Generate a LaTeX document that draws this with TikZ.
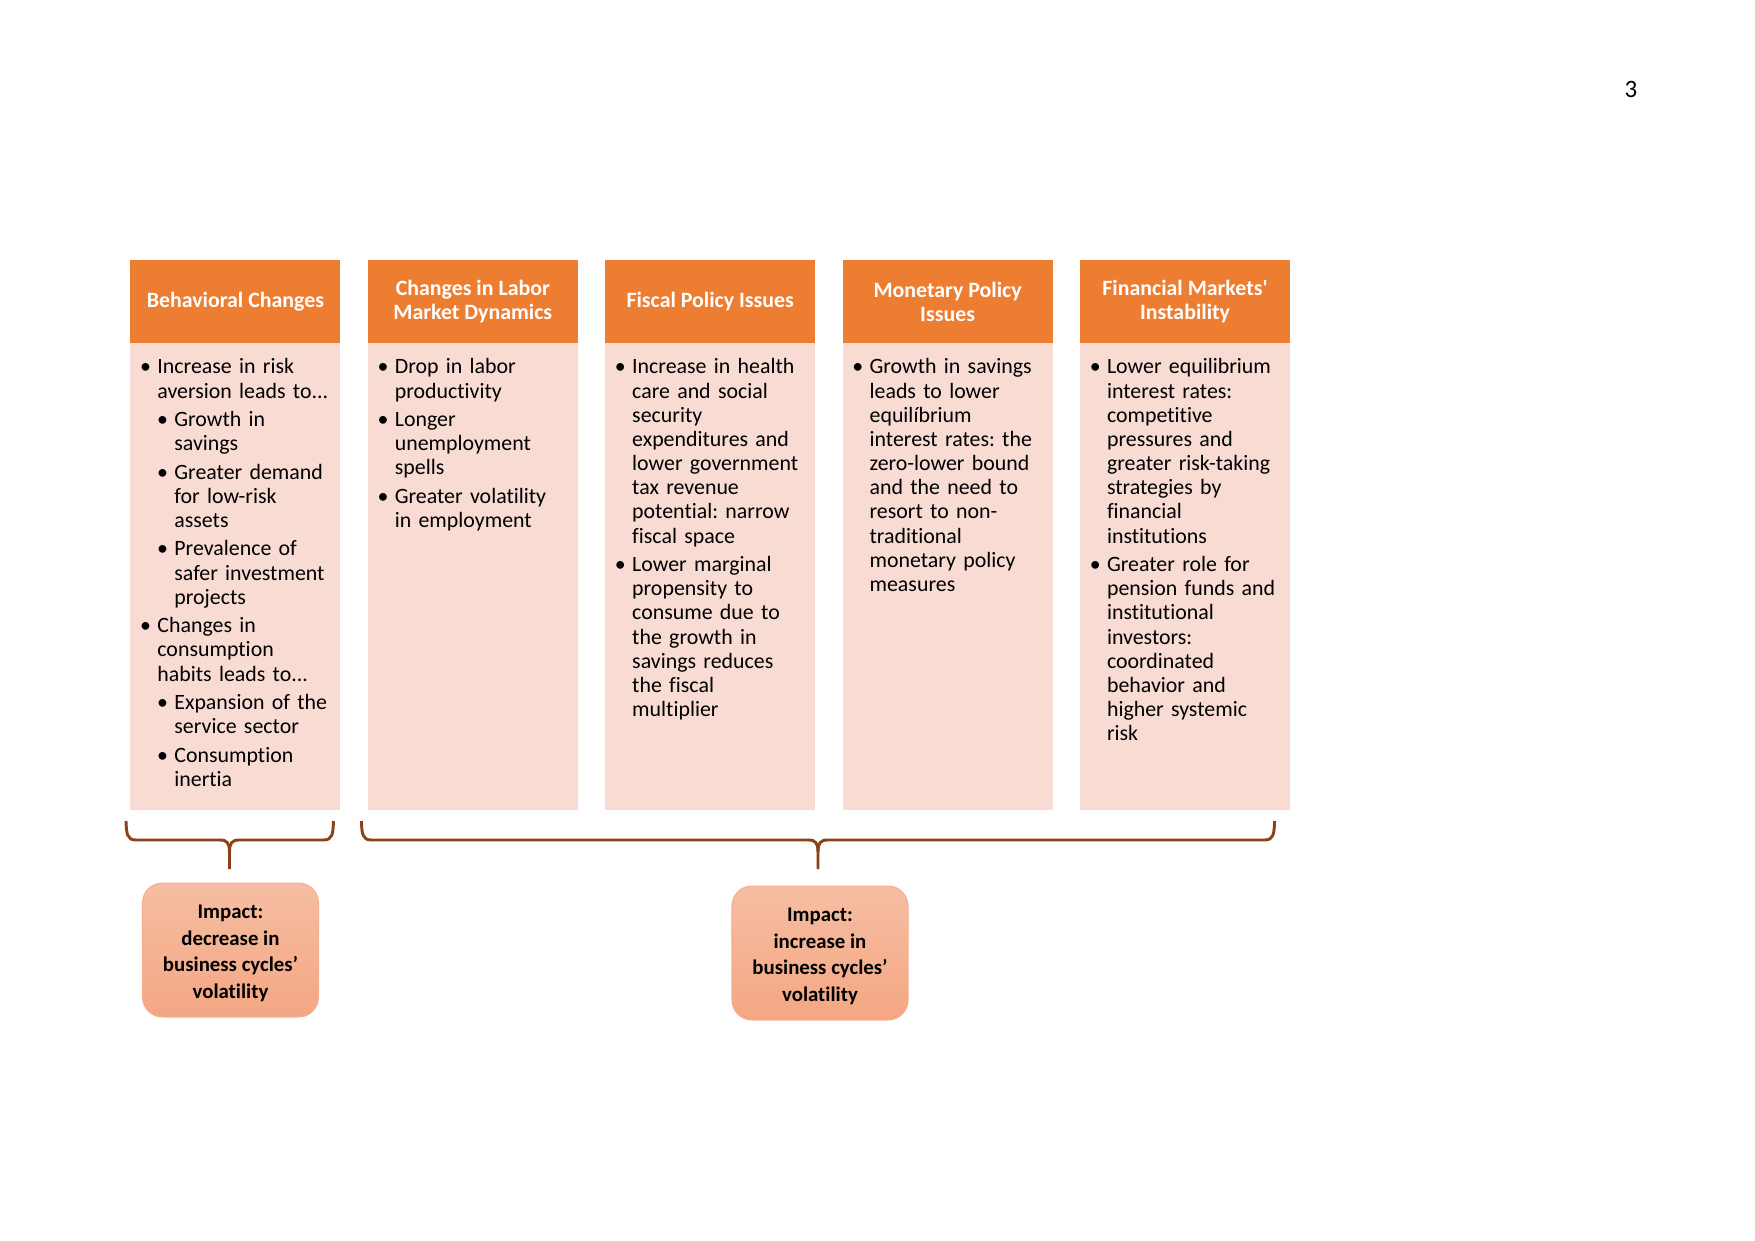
\documentclass[tikz,border=0pt]{standalone}
\usepackage{fontspec}
\setmainfont{Carlito}[Ligatures={NoCommon}]
\definecolor{hdr}{HTML}{ED7D31}
\definecolor{bodyc}{HTML}{F8DBD3}
\definecolor{imptop}{HTML}{F6BEA3}
\definecolor{impbot}{HTML}{F4A683}
\definecolor{impline}{HTML}{F3B08F}
\definecolor{bracec}{HTML}{8B4218}
\newcommand\ia[1]{\par\hangindent=12.96pt\hangafter=1\noindent\strut\makebox[12.96pt][l]{\hspace{7.3pt}\makebox[0pt][c]{\textbullet}}#1\par}
\newcommand\ib[1]{\par\hangindent=21.1pt\hangafter=1\noindent\strut\makebox[21.1pt][l]{\hspace{15.4pt}\makebox[0pt][c]{\textbullet}}#1\par}
\frenchspacing
\begin{document}
\begin{tikzpicture}[x=0.48pt,y=-0.48pt,
  hdrbox/.style={fill=hdr, draw=none, anchor=north west, minimum width=100.8pt, minimum height=39.9pt, inner sep=0pt, text=white, font=\fontsize{10.5pt}{11.6pt}\selectfont\bfseries, align=center},
  bodybox/.style={fill=bodyc, draw=none, anchor=north west, minimum width=100.8pt, minimum height=224.3pt, inner sep=0pt},
  btext/.style={anchor=north west, inner sep=0pt, text width=108pt, font=\fontsize{10.5pt}{11.6pt}\selectfont,
     execute at begin node={\raggedright\frenchspacing\hyphenpenalty=10000\setlength{\parskip}{2.06pt}}},
  impbox/.style={draw=impline, line width=0.5pt, top color=imptop, bottom color=impbot, rounded corners=9.6pt, minimum width=84.5pt, minimum height=64.3pt, inner sep=0pt},
  imptext/.style={inner sep=0pt, align=center, font=\fontsize{10pt}{12.8pt}\selectfont\bfseries},
  brc/.style={draw=bracec, line width=1.4pt}
]
\useasboundingbox (0,0) rectangle (1755,1241);
\fill[white] (0,0) rectangle (1755,1241);

% page number
\node[anchor=base, inner sep=0pt, font=\fontsize{12pt}{14pt}\selectfont] (pg) at (1631,97) {3};

% bodies
\node[bodybox] (b1) at (130,342.7) {};
\node[bodybox] (b2) at (367.4,342.7) {};
\node[bodybox] (b3) at (604.8,342.7) {};
\node[bodybox] (b4) at (842.2,342.7) {};
\node[bodybox] (b5) at (1079.6,342.7) {};

% headers
\node[hdrbox] (h1) at (130,259.6) {Behavioral Changes};
\node[hdrbox] (h2) at (367.4,259.6) {Changes in Labor\\Market Dynamics};
\node[hdrbox] (h3) at (604.8,259.6) {Fiscal Policy Issues};
\node[hdrbox] (h4) at (842.2,259.6) {Monetary Policy\\Issues};
\node[hdrbox] (h5) at (1079.6,259.6) {Financial Markets\textquotesingle\\Instability};

% body texts
\node[btext] (t1) at (130,345) {%
\ia{Increase in risk\newline aversion leads to...}
\ib{Growth in\newline savings}
\ib{Greater demand\newline for low-risk\newline assets}
\ib{Prevalence of\newline safer investment\newline projects}
\ia{Changes in\newline consumption\newline habits leads to...}
\ib{Expansion of the\newline service sector}
\ib{Consumption\newline inertia}};

\node[btext] (t2) at (367.4,345) {%
\ia{Drop in labor\newline productivity}
\ia{Longer\newline unemployment\newline spells}
\ia{Greater volatility\newline in employment}};

\node[btext] (t3) at (604.8,345) {%
\ia{Increase in health\newline care and social\newline security\newline expenditures and\newline lower government\newline tax revenue\newline potential: narrow\newline fiscal space}
\ia{Lower marginal\newline propensity to\newline consume due to\newline the growth in\newline savings reduces\newline the fiscal\newline multiplier}};

\node[btext] (t4) at (842.2,345) {%
\ia{Growth in savings\newline leads to lower\newline equilíbrium\newline interest rates: the\newline zero-lower bound\newline and the need to\newline resort to non-\newline traditional\newline monetary policy\newline measures}};

\node[btext] (t5) at (1079.6,345) {%
\ia{Lower equilibrium\newline interest rates:\newline competitive\newline pressures and\newline greater risk-taking\newline strategies by\newline financial\newline institutions}
\ia{Greater role for\newline pension funds and\newline institutional\newline investors:\newline coordinated\newline behavior and\newline higher systemic\newline risk}};

% braces
\coordinate (tip1) at (229.5,869);
\coordinate (tip2) at (818,869);
\draw[brc] (126,821) .. controls (126.5,834) and (127,840) .. (136,840) -- (220,840) .. controls (227,840) and (229.5,843) .. (229.5,852) -- (tip1);
\draw[brc] (333.5,821) .. controls (333,834) and (332.5,840) .. (323.5,840) -- (239,840) .. controls (232,840) and (229.5,843) .. (229.5,852);
\draw[brc] (361.4,821) .. controls (361.9,834) and (362.4,840) .. (371.4,840) -- (808.5,840) .. controls (815.5,840) and (818,843) .. (818,852) -- (tip2);
\draw[brc] (1274.6,821) .. controls (1274.1,834) and (1273.6,840) .. (1264.6,840) -- (827.5,840) .. controls (820.5,840) and (818,843) .. (818,852);

% impact boxes
\node[impbox] (i1) at (230.5,950) {};
\node[imptext] (i1t) at ([yshift=-1.6pt]i1.center) {Impact:\\decrease in\\business cycles’\\volatility};
\node[impbox] (i2) at (820,953) {};
\node[imptext] (i2t) at ([yshift=-1.6pt]i2.center) {Impact:\\increase in\\business cycles’\\volatility};
\end{tikzpicture}
\end{document}
